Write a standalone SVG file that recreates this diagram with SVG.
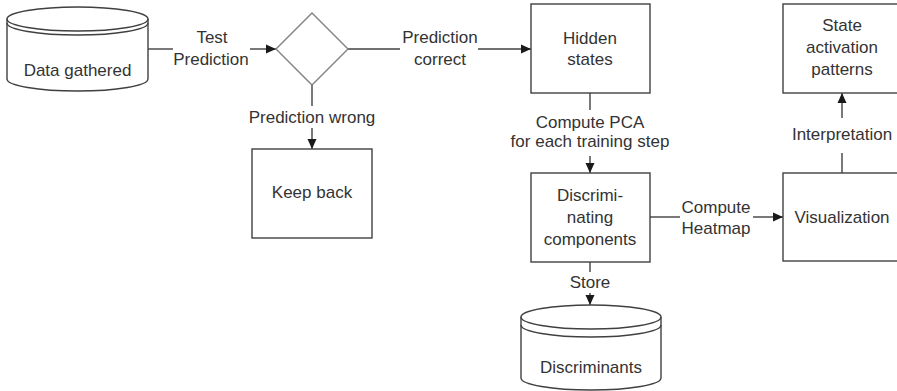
<svg xmlns="http://www.w3.org/2000/svg" width="897" height="391" viewBox="0 0 897 391">
  <style>
    .shape { fill: #ffffff; stroke: #404040; stroke-width: 1.4; }
    .decision { fill: #ffffff; stroke: #808080; stroke-width: 1.4; }
    .edge { fill: none; stroke: #404040; stroke-width: 1.4; }
    .arrow { marker-end: url(#head); }
    text { font-family: "Liberation Sans", Arial, sans-serif; font-size: 17px; fill: #333333; text-anchor: middle; }
  </style>
  <defs>
    <marker id="head" markerUnits="userSpaceOnUse" markerWidth="10" markerHeight="10" viewBox="0 0 10 10" refX="10" refY="5" orient="auto">
      <path d="M0,0.5 L10,5 L0,9.5 Z" fill="#1a1a1a"/>
    </marker>
  </defs>

  <rect width="897" height="391" fill="#ffffff"/>

  <!-- connectors -->
  <g id="connectors">
    <line class="edge" x1="148" y1="49" x2="173" y2="49"/>
    <line class="edge arrow" x1="250" y1="49" x2="276" y2="49"/>
    <text x="212" y="43">Test</text>
    <text x="211" y="65">Prediction</text>

    <line class="edge" x1="348" y1="49" x2="400" y2="49"/>
    <line class="edge arrow" x1="478" y1="49" x2="531" y2="49"/>
    <text x="440" y="43">Prediction</text>
    <text x="440" y="65">correct</text>

    <line class="edge" x1="312" y1="85" x2="312" y2="106"/>
    <line class="edge arrow" x1="312" y1="128" x2="312" y2="149"/>
    <text x="312" y="123">Prediction wrong</text>

    <line class="edge" x1="590" y1="93" x2="590" y2="110"/>
    <line class="edge arrow" x1="590" y1="156" x2="590" y2="173"/>
    <text x="590" y="128">Compute PCA</text>
    <text x="590" y="147">for each training step</text>

    <line class="edge" x1="650" y1="217" x2="680" y2="217"/>
    <line class="edge arrow" x1="753" y1="217" x2="783" y2="217"/>
    <text x="716" y="213">Compute</text>
    <text x="716" y="234">Heatmap</text>

    <line class="edge" x1="842" y1="173" x2="842" y2="153"/>
    <line class="edge arrow" x1="842" y1="118" x2="842" y2="93"/>
    <text x="842" y="140">Interpretation</text>

    <line class="edge" x1="590" y1="262" x2="590" y2="272"/>
    <line class="edge arrow" x1="590" y1="293" x2="590" y2="305"/>
    <text x="590" y="288">Store</text>
  </g>

  <!-- data source cylinder -->
  <g id="data-gathered">
    <path class="shape" d="M7,19 L7,79 A70.5,12 0 0 0 148,79 L148,19 A70.5,12 0 0 0 7,19 Z"/>
    <path class="edge" d="M7,19 A70.5,12 0 0 0 148,19"/>
    <path class="edge" d="M7,23 A70.5,12 0 0 0 148,23"/>
    <text x="77.5" y="76">Data gathered</text>
  </g>

  <g id="decision">
    <polygon class="decision" points="276,49 312,13 348,49 312,85"/>
  </g>

  <g id="hidden-states">
    <rect class="shape" x="531" y="4" width="119" height="89"/>
    <text x="590" y="44">Hidden</text>
    <text x="590" y="65">states</text>
  </g>

  <g id="keep-back">
    <rect class="shape" x="252" y="149" width="120" height="89"/>
    <text x="312" y="198">Keep back</text>
  </g>

  <g id="discriminating-components">
    <rect class="shape" x="531" y="173" width="119" height="89"/>
    <text x="590" y="201">Discrimi-</text>
    <text x="590" y="223">nating</text>
    <text x="590" y="245">components</text>
  </g>

  <g id="visualization">
    <rect class="shape" x="783" y="173" width="119" height="88"/>
    <text x="842" y="223">Visualization</text>
  </g>

  <g id="state-activation-patterns">
    <rect class="shape" x="783" y="4" width="119" height="89"/>
    <text x="842" y="31">State</text>
    <text x="842" y="53">activation</text>
    <text x="842" y="75">patterns</text>
  </g>

  <!-- storage cylinder -->
  <g id="discriminants">
    <path class="shape" d="M521,317 L521,378 A70,12 0 0 0 661,378 L661,317 A70,12 0 0 0 521,317 Z"/>
    <path class="edge" d="M521,317 A70,12 0 0 0 661,317"/>
    <path class="edge" d="M521,325 A70,12 0 0 0 661,325"/>
    <text x="591" y="373">Discriminants</text>
  </g>
</svg>
